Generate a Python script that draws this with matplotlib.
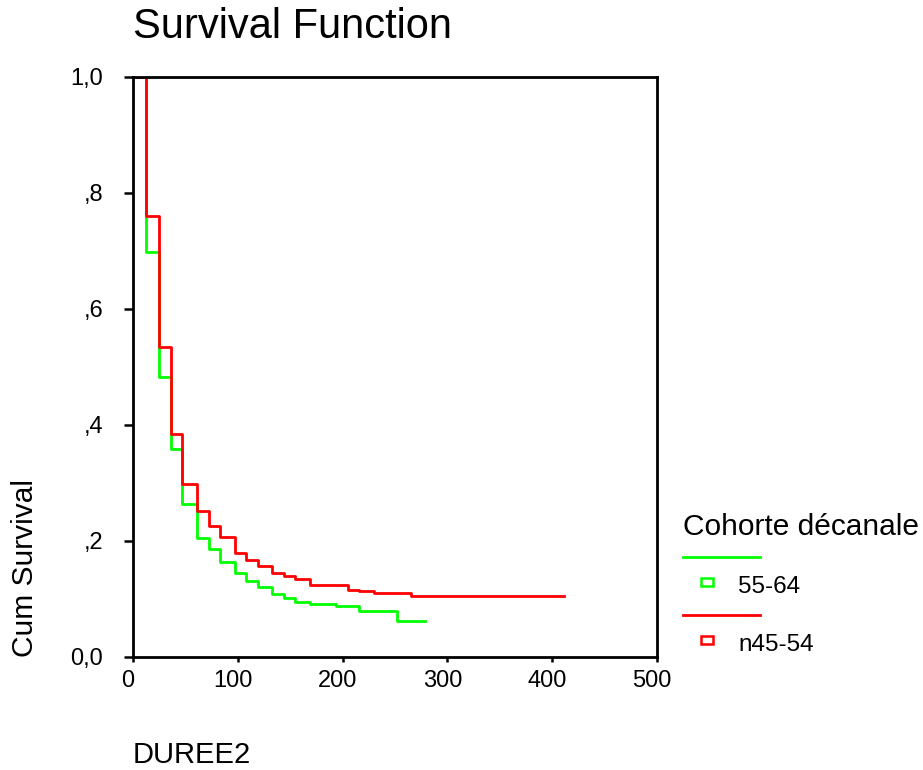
import matplotlib
matplotlib.use("Agg")
import matplotlib.pyplot as plt
from matplotlib.lines import Line2D
from matplotlib.patches import Rectangle
from matplotlib.transforms import ScaledTranslation

plt.rcParams['font.family'] = ['Liberation Sans', 'DejaVu Sans']

# step times (DUREE2) and cumulative survival for each cohort
t_5564 = [0, 12, 25, 36, 47, 61, 72.5, 83, 97, 108, 119.6, 133, 144, 155, 169, 194, 216, 252]
s_5564 = [1.0, 0.699, 0.483, 0.358, 0.263, 0.205, 0.186, 0.163, 0.145, 0.131, 0.120, 0.109,
          0.102, 0.094, 0.091, 0.088, 0.080, 0.062]
end_5564 = 278.6

t_4554 = [0, 12, 25, 36, 47, 61, 72.5, 83, 97, 108, 119.6, 133, 144, 155, 169, 205, 216, 230, 265]
s_4554 = [1.0, 0.761, 0.535, 0.384, 0.299, 0.252, 0.226, 0.207, 0.179, 0.168, 0.157, 0.145,
          0.139, 0.135, 0.124, 0.116, 0.113, 0.110, 0.106]
end_4554 = 411

labels = ['55-64', 'n45-54']
colors = ['#00ff00', '#ff0000']
x_ticks = [0, 100, 200, 300, 400, 500]
y_ticks = [0.0, 0.2, 0.4, 0.6, 0.8, 1.0]
y_tick_labels = ['0,0', ',2', ',4', ',6', ',8', '1,0']

W, H = 923, 770
fig = plt.figure(figsize=(W / 100, H / 100), dpi=100)
ax = fig.add_axes([133 / W, 1 - 657 / H, 524 / W, 580 / H])

ax.step(t_5564 + [end_5564], s_5564 + [s_5564[-1]], where='post', color=colors[0], lw=2)
ax.step(t_4554 + [end_4554], s_4554 + [s_4554[-1]], where='post', color=colors[1], lw=2)

ax.set_xlim(0, 500)
ax.set_ylim(0, 1)
ax.set_xticks(x_ticks)
ax.set_yticks(y_ticks)
ax.set_yticklabels(y_tick_labels)
ax.tick_params(axis='x', direction='out', length=3.6, width=1.8, labelsize=17, pad=5.5)
ax.tick_params(axis='y', direction='out', length=6.5, width=1.8, labelsize=17, pad=15)
# SPSS puts x labels a bit left of the ticks
shift = ScaledTranslation(-5 / 100, 0, fig.dpi_scale_trans)
for lab in ax.get_xticklabels():
    lab.set_transform(lab.get_transform() + shift)
for sp in ax.spines.values():
    sp.set_linewidth(2)

fig.text(133 / W, 1 - 38 / H, 'Survival Function', ha='left', va='baseline', fontsize=30)
fig.text(25 / W, 1 - 568 / H, 'Cum Survival', rotation=90, ha='center', va='center', fontsize=21.5)
fig.text(133 / W, 1 - 763 / H, 'DUREE2', ha='left', va='baseline', fontsize=21)

# legend drawn by hand, SPSS style
fig.text(683 / W, 1 - 535 / H, 'Cohorte décanale', ha='left', va='baseline', fontsize=21.5)
for i, (lab, c) in enumerate(zip(labels, colors)):
    y_line = 557 + i * 58
    fig.add_artist(Line2D([683 / W, 760 / W], [1 - y_line / H] * 2, color=c, lw=2))
    fig.add_artist(Rectangle(((707 - 6) / W, 1 - (y_line + 25 + 4) / H), 12 / W, 8 / H,
                             facecolor='white', edgecolor=c, lw=1.8))
    fig.text(738 / W, 1 - (y_line + 36) / H, lab, ha='left', va='baseline', fontsize=17.5)

fig.savefig('out.png', dpi=100)
